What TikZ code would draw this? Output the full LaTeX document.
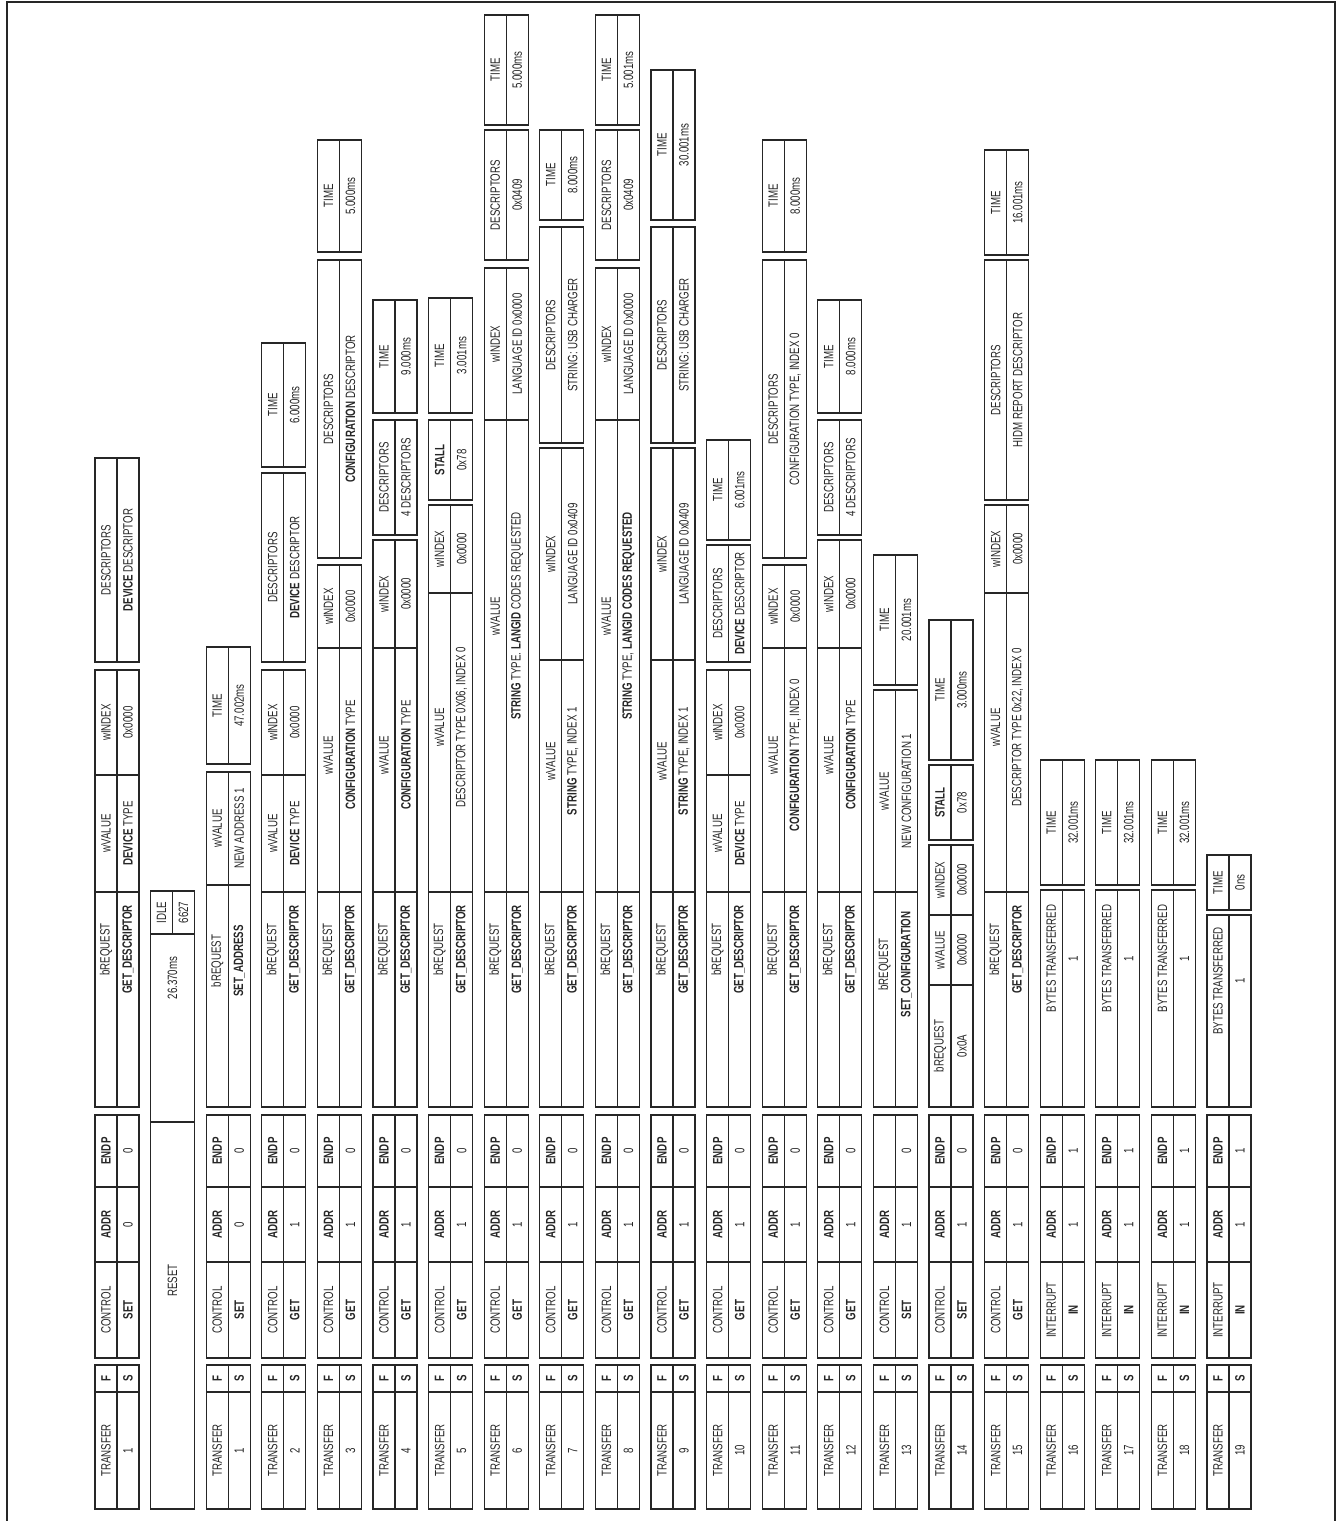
\documentclass[tikz,border=0pt]{standalone}
\usepackage{fontspec}
\setmainfont{Liberation Sans}[FakeStretch=0.72]
\tikzset{
  cl/.style={draw=black!85, line width=1.1pt},
  txt/.style={rotate=90, inner sep=0pt, font=\fontsize{13.5}{15}\selectfont, text=black!85},
}
% [#1 text shift up] #2 name, #3 column, #4 ytop, #5 ybottom, #6 header, #7 value
\newcommand\fld[7][0]{%
  \pgfmathsetmacro\xa{95+55.6*#3}%
  \pgfmathsetmacro\xm{\xa+22}%
  \pgfmathsetmacro\xb{\xa+44}%
  \draw[cl] (\xa,#4) rectangle (\xb,#5);
  \draw[cl] (\xm,#4) -- (\xm,#5);
  \node[txt] (#2h) at ({(\xa+\xm)/2},{(#4+#5)/2-#1}) {#6};
  \node[txt] (#2v) at ({(\xm+\xb)/2},{(#4+#5)/2-#1}) {#7};
}
% single cell: [#1 shift] #2 name, #3 column, #4 ytop, #5 ybottom, #6 text
\newcommand\one[6][0]{%
  \pgfmathsetmacro\xa{95+55.6*#3}%
  \pgfmathsetmacro\xb{\xa+44}%
  \draw[cl] (\xa,#4) rectangle (\xb,#5);
  \node[txt] (#2) at ({(\xa+\xb)/2},{(#4+#5)/2-#1}) {#6};
}
\newcommand\tr[3]{% #1 name #2 column #3 number
  \fld{#1f}{#2}{1365}{1392}{\textbf{F}}{\textbf{S}}
  \fld{#1t}{#2}{1392}{1509}{TRANSFER}{#3}
}
\newcommand\ctl[5]{% #1 name #2 col #3 type #4 set/get #5 addr
  \fld{#1c}{#2}{1262}{1358}{#3}{\textbf{#4}}
  \fld{#1a}{#2}{1187}{1262}{\textbf{ADDR}}{#5}
}
\begin{document}
\begin{tikzpicture}[x=1pt,y=-1pt]
\useasboundingbox (0,0) rectangle (1338,1521);
\draw[line width=2pt, draw=black!85] (7,1521) -- (7,2) -- (1335,2) -- (1335,1521);

% column 0 : transfer 1
\tr{a}{0}{1}
\ctl{a}{0}{CONTROL}{SET}{0}
\fld{ae}{0}{1115}{1187}{\textbf{ENDP}}{0}
\fld[50]{ab}{0}{892}{1107}{bREQUEST}{\textbf{GET\_DESCRIPTOR}}
\fld{aw}{0}{775}{892}{wVALUE}{\textbf{DEVICE} TYPE}
\fld{ai}{0}{670}{775}{wINDEX}{0x0000}
\fld{ad}{0}{458}{662}{DESCRIPTORS}{\textbf{DEVICE} DESCRIPTOR}

% column 1 : reset
\one[35]{rs}{1}{1122}{1509}{RESET}
\one[50]{rt}{1}{934}{1122}{26.370ms}
\fld{ri}{1}{891}{934}{IDLE}{6627}

% column 2 : transfer 1
\tr{b}{2}{1}
\ctl{b}{2}{CONTROL}{SET}{0}
\fld{be}{2}{1115}{1187}{\textbf{ENDP}}{0}
\fld[35]{bb}{2}{885}{1107}{bREQUEST}{\textbf{SET\_ADDRESS}}
\fld{bw}{2}{772}{885}{wVALUE}{NEW ADDRESS 1}
\fld{bt}{2}{647}{764}{TIME}{47.002ms}

% column 3 : transfer 2
\tr{c}{3}{2}
\ctl{c}{3}{CONTROL}{GET}{1}
\fld{ce}{3}{1115}{1187}{\textbf{ENDP}}{0}
\fld[50]{cb}{3}{892}{1107}{bREQUEST}{\textbf{GET\_DESCRIPTOR}}
\fld{cw}{3}{775}{892}{wVALUE}{\textbf{DEVICE} TYPE}
\fld{ci}{3}{670}{775}{wINDEX}{0x0000}
\fld{cd}{3}{473}{662}{DESCRIPTORS}{\textbf{DEVICE} DESCRIPTOR}
\fld{ct}{3}{343}{467}{TIME}{6.000ms}

% column 4 : transfer 3
\tr{d}{4}{3}
\ctl{d}{4}{CONTROL}{GET}{1}
\fld{de}{4}{1115}{1187}{\textbf{ENDP}}{0}
\fld[50]{db}{4}{892}{1107}{bREQUEST}{\textbf{GET\_DESCRIPTOR}}
\fld[15]{dw}{4}{648}{892}{wVALUE}{\textbf{CONFIGURATION} TYPE}
\fld{di}{4}{565}{648}{wINDEX}{0x0000}
\fld{dd}{4}{260}{558}{DESCRIPTORS}{\textbf{CONFIGURATION} DESCRIPTOR}
\fld{dt}{4}{140}{252}{TIME}{5.000ms}

% column 5 : transfer 4
\tr{e}{5}{4}
\ctl{e}{5}{CONTROL}{GET}{1}
\fld{ee}{5}{1115}{1187}{\textbf{ENDP}}{0}
\fld[50]{eb}{5}{892}{1107}{bREQUEST}{\textbf{GET\_DESCRIPTOR}}
\fld[15]{ew}{5}{648}{892}{wVALUE}{\textbf{CONFIGURATION} TYPE}
\fld{ei}{5}{540}{648}{wINDEX}{0x0000}
\fld{ed}{5}{420}{535}{DESCRIPTORS}{4 DESCRIPTORS}
\fld{et}{5}{300}{413}{TIME}{9.000ms}

% column 6 : transfer 5
\tr{f}{6}{5}
\ctl{f}{6}{CONTROL}{GET}{1}
\fld{fe}{6}{1115}{1187}{\textbf{ENDP}}{0}
\fld[50]{fb}{6}{892}{1107}{bREQUEST}{\textbf{GET\_DESCRIPTOR}}
\fld[15]{fw}{6}{593}{892}{wVALUE}{DESCRIPTOR TYPE 0X06, INDEX 0}
\fld{fi}{6}{505}{593}{wINDEX}{0x0000}
\fld{fs}{6}{420}{500}{\textbf{STALL}}{0x78}
\fld{ft}{6}{298}{413}{TIME}{3.001ms}

% column 7 : transfer 6
\tr{g}{7}{6}
\ctl{g}{7}{CONTROL}{GET}{1}
\fld{ge}{7}{1115}{1187}{\textbf{ENDP}}{0}
\fld[50]{gb}{7}{892}{1107}{bREQUEST}{\textbf{GET\_DESCRIPTOR}}
\fld[40]{gw}{7}{420}{892}{wVALUE}{\textbf{STRING} TYPE. \textbf{LANGID} CODES REQUESTED}
\fld{gi}{7}{268}{420}{wINDEX}{LANGUAGE ID 0x0000}
\fld{gd}{7}{130}{260}{DESCRIPTORS}{0x0409}
\fld{gt}{7}{15}{125}{TIME}{5.000ms}

% column 8 : transfer 7
\tr{h}{8}{7}
\ctl{h}{8}{CONTROL}{GET}{1}
\fld{he}{8}{1115}{1187}{\textbf{ENDP}}{0}
\fld[50]{hb}{8}{892}{1107}{bREQUEST}{\textbf{GET\_DESCRIPTOR}}
\fld[15]{hw}{8}{660}{892}{wVALUE}{\textbf{STRING} TYPE, INDEX 1}
\fld{hi}{8}{448}{660}{wINDEX}{LANGUAGE ID 0x0409}
\fld{hd}{8}{227}{443}{DESCRIPTORS}{STRING: USB CHARGER}
\fld{ht}{8}{130}{220}{TIME}{8.000ms}

% column 9 : transfer 8
\tr{i}{9}{8}
\ctl{i}{9}{CONTROL}{GET}{1}
\fld{ie}{9}{1115}{1187}{\textbf{ENDP}}{0}
\fld[50]{ib}{9}{892}{1107}{bREQUEST}{\textbf{GET\_DESCRIPTOR}}
\fld[40]{iw}{9}{420}{892}{wVALUE}{\textbf{STRING} TYPE, \textbf{LANGID CODES REQUESTED}}
\fld{ii}{9}{268}{420}{wINDEX}{LANGUAGE ID 0x0000}
\fld{id}{9}{130}{260}{DESCRIPTORS}{0x0409}
\fld{it}{9}{15}{125}{TIME}{5.001ms}

% column 10 : transfer 9
\tr{j}{10}{9}
\ctl{j}{10}{CONTROL}{GET}{1}
\fld{je}{10}{1115}{1187}{\textbf{ENDP}}{0}
\fld[50]{jb}{10}{892}{1107}{bREQUEST}{\textbf{GET\_DESCRIPTOR}}
\fld[15]{jw}{10}{660}{892}{wVALUE}{\textbf{STRING} TYPE, INDEX 1}
\fld{ji}{10}{448}{660}{wINDEX}{LANGUAGE ID 0x0409}
\fld{jd}{10}{227}{443}{DESCRIPTORS}{STRING: USB CHARGER}
\fld{jt}{10}{70}{220}{TIME}{30.001ms}

% column 11 : transfer 10
\tr{k}{11}{10}
\ctl{k}{11}{CONTROL}{GET}{1}
\fld{ke}{11}{1115}{1187}{\textbf{ENDP}}{0}
\fld[50]{kb}{11}{892}{1107}{bREQUEST}{\textbf{GET\_DESCRIPTOR}}
\fld{kw}{11}{775}{892}{wVALUE}{\textbf{DEVICE} TYPE}
\fld{ki}{11}{670}{775}{wINDEX}{0x0000}
\fld{kd}{11}{545}{662}{DESCRIPTORS}{\textbf{DEVICE} DESCRIPTOR}
\fld{kt}{11}{440}{540}{TIME}{6.001ms}

% column 12 : transfer 11
\tr{l}{12}{11}
\ctl{l}{12}{CONTROL}{GET}{1}
\fld{le}{12}{1115}{1187}{\textbf{ENDP}}{0}
\fld[50]{lb}{12}{892}{1107}{bREQUEST}{\textbf{GET\_DESCRIPTOR}}
\fld[15]{lw}{12}{648}{892}{wVALUE}{\textbf{CONFIGURATION} TYPE, INDEX 0}
\fld{li}{12}{565}{648}{wINDEX}{0x0000}
\fld{ld}{12}{260}{558}{DESCRIPTORS}{CONFIGURATION  TYPE, INDEX 0}
\fld{lt}{12}{140}{252}{TIME}{8.000ms}

% column 13 : transfer 12
\tr{m}{13}{12}
\ctl{m}{13}{CONTROL}{GET}{1}
\fld{me}{13}{1115}{1187}{\textbf{ENDP}}{0}
\fld[50]{mb}{13}{892}{1107}{bREQUEST}{\textbf{GET\_DESCRIPTOR}}
\fld[15]{mw}{13}{648}{892}{wVALUE}{\textbf{CONFIGURATION} TYPE}
\fld{mi}{13}{540}{648}{wINDEX}{0x0000}
\fld{md}{13}{420}{535}{DESCRIPTORS}{4 DESCRIPTORS}
\fld{mt}{13}{300}{413}{TIME}{8.000ms}

% column 14 : transfer 13
\tr{n}{14}{13}
\ctl{n}{14}{CONTROL}{SET}{1}
\fld{ne}{14}{1115}{1187}{}{0}
\fld[35]{nb}{14}{892}{1107}{bREQUEST}{\textbf{SET\_CONFIGURATION}}
\fld{nw}{14}{690}{892}{wVALUE}{NEW CONFIGURATION 1}
\fld{nt}{14}{555}{685}{TIME}{20.001ms}

% column 15 : transfer 14
\tr{o}{15}{14}
\ctl{o}{15}{CONTROL}{SET}{1}
\fld{oe}{15}{1115}{1187}{\textbf{ENDP}}{0}
\fld{ob}{15}{985}{1107}{bREQUEST}{0x0A}
\fld{ow}{15}{915}{985}{wVALUE}{0x0000}
\fld{oi}{15}{845}{915}{wINDEX}{0x0000}
\fld{os}{15}{765}{840}{\textbf{STALL}}{0x78}
\fld{ot}{15}{620}{760}{TIME}{3.000ms}

% column 16 : transfer 15
\tr{p}{16}{15}
\ctl{p}{16}{CONTROL}{GET}{1}
\fld{pe}{16}{1115}{1187}{\textbf{ENDP}}{0}
\fld[50]{pb}{16}{892}{1107}{bREQUEST}{\textbf{GET\_DESCRIPTOR}}
\fld[15]{pw}{16}{593}{892}{wVALUE}{DESCRIPTOR TYPE 0x22, INDEX 0}
\fld{pi}{16}{505}{593}{wINDEX}{0x0000}
\fld{pd}{16}{260}{500}{DESCRIPTORS}{HIDM REPORT DESCRIPTOR}
\fld{pt}{16}{150}{255}{TIME}{16.001ms}

% columns 17-19 : transfers 16-18
\tr{q}{17}{16}
\ctl{q}{17}{INTERRUPT}{IN}{1}
\fld{qe}{17}{1115}{1187}{\textbf{ENDP}}{1}
\fld[40]{qb}{17}{890}{1107}{BYTES TRANSFERRED}{1}
\fld{qt}{17}{760}{885}{TIME}{32.001ms}

\tr{r}{18}{17}
\ctl{r}{18}{INTERRUPT}{IN}{1}
\fld{re}{18}{1115}{1187}{\textbf{ENDP}}{1}
\fld[40]{rb}{18}{890}{1107}{BYTES TRANSFERRED}{1}
\fld{rt}{18}{760}{885}{TIME}{32.001ms}

\tr{s}{19}{18}
\ctl{s}{19}{INTERRUPT}{IN}{1}
\fld{se}{19}{1115}{1187}{\textbf{ENDP}}{1}
\fld[40]{sb}{19}{890}{1107}{BYTES TRANSFERRED}{1}
\fld{st}{19}{760}{885}{TIME}{32.001ms}

% column 20 : transfer 19
\tr{u}{20}{19}
\ctl{u}{20}{INTERRUPT}{IN}{1}
\fld{ue}{20}{1115}{1187}{\textbf{ENDP}}{1}
\fld[30]{ub}{20}{915}{1107}{BYTES TRANSFERRED}{1}
\fld{ut}{20}{855}{910}{TIME}{0ns}
\end{tikzpicture}
\end{document}
